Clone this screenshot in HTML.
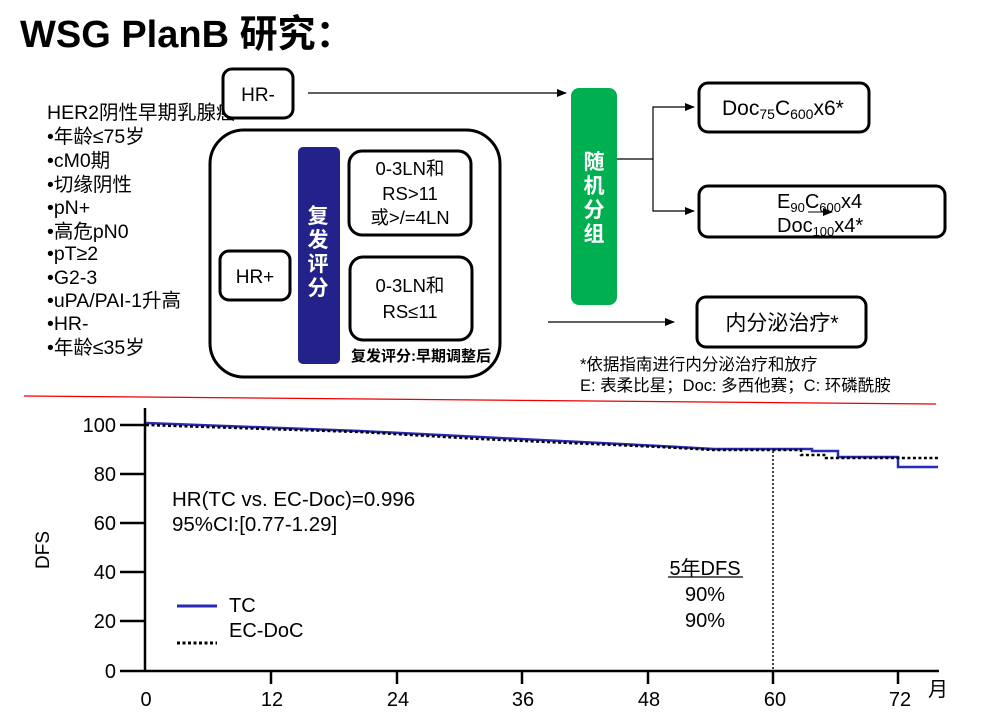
<!DOCTYPE html>
<html><head><meta charset="utf-8"><style>
body{margin:0;background:#fff;width:984px;height:715px;overflow:hidden;position:relative;font-family:"Liberation Sans","Noto Sans CJK SC",sans-serif;color:#000}
</style></head><body>
<svg width="984" height="715" viewBox="0 0 984 715" xmlns="http://www.w3.org/2000/svg" style="position:absolute;left:0;top:0;font-family:'Liberation Sans','Noto Sans CJK SC',sans-serif">
<defs><marker id="ar" markerWidth="10" markerHeight="8" refX="9" refY="4" orient="auto" markerUnits="userSpaceOnUse"><path d="M0,0 L10,4 L0,8 z" fill="#000"/></marker></defs>
<text x="20" y="47" font-size="38" font-weight="bold">WSG PlanB 研究：</text>
<g font-size="19.5">
<text x="47" y="119">HER2阴性早期乳腺癌</text>
<text x="47" y="143">•年龄≤75岁</text>
<text x="47" y="167">•cM0期</text>
<text x="47" y="191">•切缘阴性</text>
<text x="47" y="214">•pN+</text>
<text x="47" y="238">•高危pN0</text>
<text x="47" y="260">•pT≥2</text>
<text x="47" y="284">•G2-3</text>
<text x="47" y="307">•uPA/PAI-1升高</text>
<text x="47" y="330">•HR-</text>
<text x="47" y="354">•年龄≤35岁</text>
</g>
<rect x="223" y="69" width="70" height="49" rx="9" fill="#fff" stroke="#000" stroke-width="3"/>
<text x="258" y="101" font-size="19" text-anchor="middle">HR-</text>
<line x1="308" y1="93" x2="566" y2="93" stroke="#000" stroke-width="1.2" marker-end="url(#ar)"/>
<rect x="210" y="130" width="290" height="247" rx="34" fill="none" stroke="#000" stroke-width="3"/>
<rect x="220" y="251" width="70" height="49" rx="9" fill="#fff" stroke="#000" stroke-width="3"/>
<text x="255" y="283" font-size="19" text-anchor="middle">HR+</text>
<rect x="298" y="147" width="42" height="217" rx="5" fill="#22228a"/>
<g font-size="21" font-weight="bold" fill="#fff" text-anchor="middle"><text x="318" y="223">复</text><text x="318" y="247">发</text><text x="318" y="271">评</text><text x="318" y="295">分</text></g>
<rect x="349" y="151" width="122" height="84" rx="13" fill="none" stroke="#000" stroke-width="3"/>
<g font-size="18.5" text-anchor="middle"><text x="410" y="175">0-3LN和</text><text x="410" y="200">RS&gt;11</text><text x="410" y="224">或&gt;/=4LN</text>
<text x="410" y="292">0-3LN和</text><text x="410" y="318">RS≤11</text></g>
<rect x="350" y="257" width="122" height="83" rx="13" fill="none" stroke="#000" stroke-width="3"/>
<text x="351" y="361" font-size="15" font-weight="bold">复发评分:早期调整后</text>
<line x1="548" y1="322" x2="674" y2="322" stroke="#000" stroke-width="1.2" marker-end="url(#ar)"/>
<rect x="571" y="88" width="46" height="217" rx="8" fill="#00b050"/>
<g font-size="21" font-weight="bold" fill="#fff" text-anchor="middle"><text x="594" y="169">随</text><text x="594" y="193">机</text><text x="594" y="217">分</text><text x="594" y="241">组</text></g>
<polyline points="617,159 653,159 653,107 694,107" fill="none" stroke="#000" stroke-width="1.2" marker-end="url(#ar)"/>
<polyline points="653,159 653,211 694,211" fill="none" stroke="#000" stroke-width="1.2" marker-end="url(#ar)"/>
<rect x="699" y="83" width="170" height="49" rx="9" fill="none" stroke="#000" stroke-width="3"/>
<text x="722" y="115" font-size="21">Doc<tspan font-size="14" dy="4">75</tspan><tspan dy="-4">C</tspan><tspan font-size="14" dy="4">600</tspan><tspan dy="-4">x6*</tspan></text>
<rect x="699" y="186" width="246" height="51" rx="9" fill="none" stroke="#000" stroke-width="3"/>
<text x="777" y="208" font-size="20">E<tspan font-size="13" dy="4">90</tspan><tspan dy="-4">C</tspan><tspan font-size="13" dy="4">600</tspan><tspan dy="-4">x4</tspan></text>
<text x="777" y="232" font-size="20">Doc<tspan font-size="13" dy="4">100</tspan><tspan dy="-4">x4*</tspan></text>
<line x1="808" y1="212" x2="832" y2="212" stroke="#000" stroke-width="1" marker-end="url(#ar)"/>
<rect x="697" y="297" width="169" height="50" rx="9" fill="none" stroke="#000" stroke-width="3"/>
<text x="782" y="330" font-size="21" text-anchor="middle">内分泌治疗*</text>
<text x="580" y="370" font-size="16.5">*依据指南进行内分泌治疗和放疗</text>
<text x="580" y="391" font-size="16.5">E: 表柔比星；Doc: 多西他赛；C: 环磷酰胺</text>
<line x1="24" y1="396" x2="936" y2="404" stroke="#e00" stroke-width="1.2"/>
<g stroke="#000" stroke-width="2.5" fill="none">
<line x1="145" y1="408" x2="145" y2="672"/>
<line x1="145" y1="671" x2="939" y2="671"/>
<line x1="120" y1="425" x2="145" y2="425"/><line x1="120" y1="474" x2="145" y2="474"/><line x1="120" y1="523" x2="145" y2="523"/><line x1="120" y1="572" x2="145" y2="572"/><line x1="120" y1="621" x2="145" y2="621"/><line x1="120" y1="671" x2="145" y2="671"/>
<line x1="271" y1="671" x2="271" y2="684"/><line x1="397" y1="671" x2="397" y2="684"/><line x1="522" y1="671" x2="522" y2="684"/><line x1="648" y1="671" x2="648" y2="684"/><line x1="773" y1="671" x2="773" y2="684"/><line x1="898" y1="671" x2="898" y2="684"/>
</g>
<g font-size="20" text-anchor="end"><text x="116" y="432">100</text><text x="116" y="481">80</text><text x="116" y="530">60</text><text x="116" y="579">40</text><text x="116" y="628">20</text><text x="116" y="678">0</text></g>
<g font-size="20" text-anchor="middle"><text x="146" y="706">0</text><text x="272" y="706">12</text><text x="398" y="706">24</text><text x="523" y="706">36</text><text x="649" y="706">48</text><text x="775" y="706">60</text><text x="900" y="706">72</text></g>
<text x="928" y="696" font-size="20">月</text>
<text transform="translate(49,550) rotate(-90)" font-size="19" text-anchor="middle">DFS</text>
<polyline points="146,423 360,431 480,437 660,446 714,449 812,449 812,451 838,451 838,457 898,457 898,467 938,467" fill="none" stroke="#2a2ab8" stroke-width="2.5"/>
<polyline points="146,425 360,432 480,439 660,447 714,450 801,450 801,455 826,455 826,458 938,458" fill="none" stroke="#000" stroke-width="2.5" stroke-dasharray="3,2.5"/>
<line x1="773" y1="451" x2="773" y2="671" stroke="#000" stroke-width="1.5" stroke-dasharray="2,2"/>
<text x="172" y="506" font-size="20.5">HR(TC vs. EC-Doc)=0.996</text>
<text x="172" y="531" font-size="20.5">95%CI:[0.77-1.29]</text>
<line x1="177" y1="606" x2="217" y2="606" stroke="#2a2ab8" stroke-width="3"/>
<text x="229" y="612" font-size="20">TC</text>
<text x="229" y="637" font-size="20">EC-DoC</text>
<line x1="177" y1="643" x2="217" y2="643" stroke="#000" stroke-width="3" stroke-dasharray="3,2.5"/>
<g font-size="20" text-anchor="middle"><text x="705" y="575">5年DFS</text><text x="705" y="601">90%</text><text x="705" y="627">90%</text></g>
<line x1="668" y1="577" x2="743" y2="577" stroke="#000" stroke-width="1.2"/>
</svg>
</body></html>
